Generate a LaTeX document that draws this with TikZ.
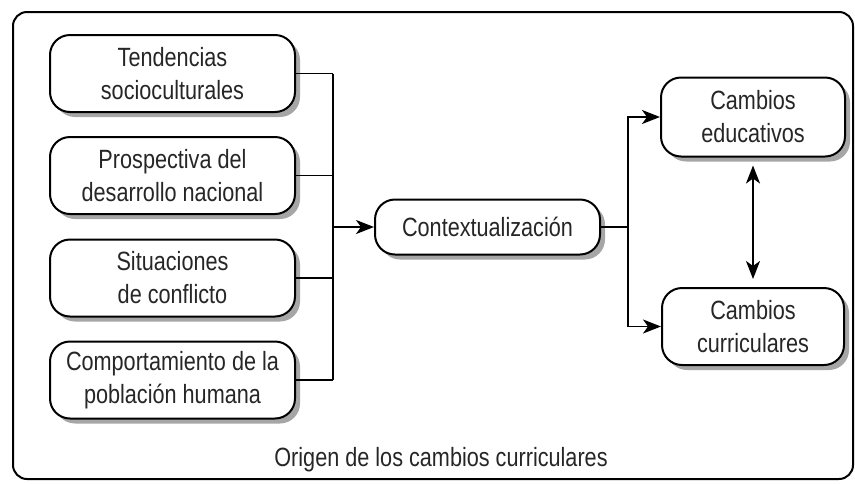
\documentclass[tikz,border=0pt]{standalone}
\usepackage{fontspec}
\setmainfont{Liberation Sans}[FakeStretch=0.82]
\usetikzlibrary{arrows.meta,shadows}

\begin{document}
\begin{tikzpicture}[x=0.5pt, y=-0.5pt,
  every node/.style = {
    align=center, text=black!85,
    font=\fontsize{13.2}{16.5}\selectfont},
  caja/.style = {draw, line width=1pt, fill=white, rounded corners=10pt,
    inner sep=0pt, minimum width=122.5pt, minimum height=38.5pt,
    drop shadow={shadow xshift=2.5pt, shadow yshift=-2.5pt, fill=black!35, opacity=1}},
  linea/.style = {line width=0.9pt},
  punta/.tip = {Stealth[length=9pt, width=7pt, inset=2.5pt]},
  flecha/.style = {linea, -punta}]
  \useasboundingbox (0,0) rectangle (855,483);
  \draw[line width=1pt, rounded corners=7pt] (13,12) rectangle (853,479);

  \node[caja] (tend) at (172.5,73.5) {Tendencias\\socioculturales};
  \node[caja] (prosp) at (172.5,175.5) {Prospectiva del\\desarrollo nacional};
  \node[caja] (sit) at (172.5,278) {Situaciones\\de conflicto};
  \node[caja] (comp) at (172.5,380) {Comportamiento de la\\poblaci\'on humana};

  \node[caja, minimum width=112.5pt, minimum height=27.5pt] (ctx) at (487.5,227) {Contextualizaci\'on};
  \node[caja, minimum width=92pt, minimum height=39.5pt] (edu) at (753,117) {Cambios\\educativos};
  \node[caja, minimum width=91pt, minimum height=38.5pt] (cur) at (753,326.5) {Cambios\\curriculares};

  \coordinate (bus) at (333,227);
  \coordinate (rbus) at (628,227);

  % entradas
  \foreach \n in {tend,prosp,sit,comp}
    \draw[linea] (\n.east) -- (\n.east -| bus);
  \draw[linea] (tend.east -| bus) -- (comp.east -| bus);
  \draw[flecha] (bus) -- (ctx.west);

  % salidas
  \draw[linea] (ctx.east) -- (rbus);
  \draw[flecha] (rbus) |- (edu.west);
  \draw[flecha] (rbus) |- (cur.west);
  \draw[linea, punta-punta, shorten <=4pt, shorten >=4pt] (edu.south) -- (cur.north);

  \node (origen) at (441,460) {Origen de los cambios curriculares};
\end{tikzpicture}
\end{document}
